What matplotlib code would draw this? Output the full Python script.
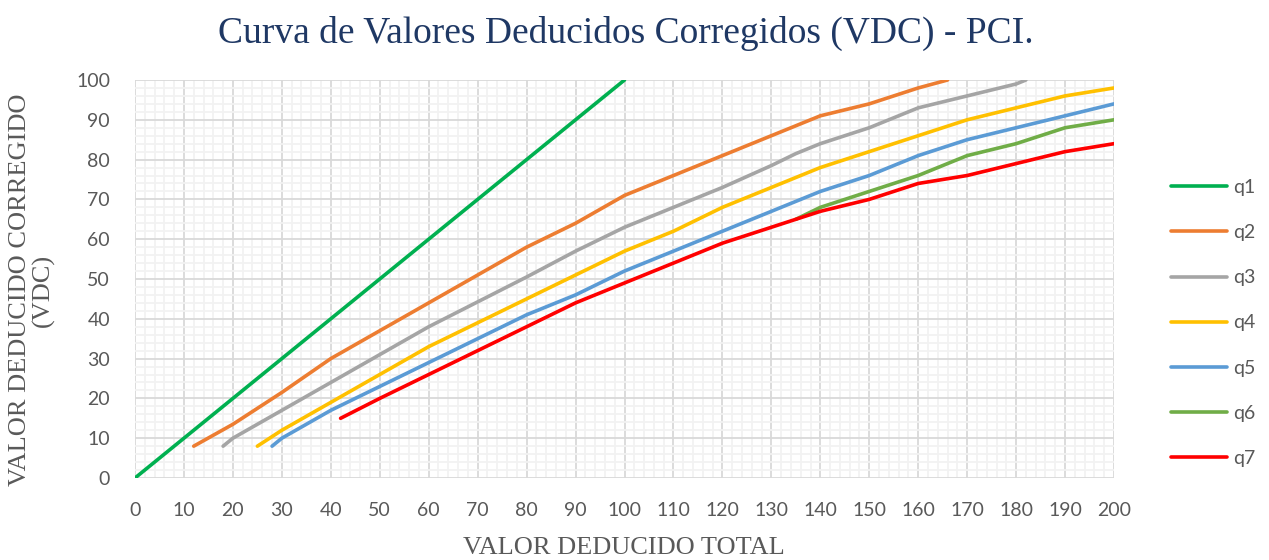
import matplotlib
matplotlib.use("Agg")
import matplotlib.pyplot as plt
from matplotlib.ticker import MultipleLocator

# ---- data ----
q1_x = [0, 100]
q1_y = [0, 100]
q2_x = [12, 20, 30, 40, 60, 80, 90, 100, 110, 120, 130, 140, 150, 160, 166]
q2_y = [8, 13.5, 21.5, 30, 44, 58, 64, 71, 76, 81, 86, 91, 94, 98, 100]
q3_x = [18, 20, 30, 40, 60, 80, 90, 100, 110, 120, 130, 135, 140, 150, 160, 170, 180, 182]
q3_y = [8, 10, 17, 24, 38, 50.5, 57, 63, 68, 73, 78.5, 81.5, 84, 88, 93, 96, 99, 100]
q4_x = [25, 30, 40, 60, 70, 80, 90, 100, 110, 120, 130, 140, 150, 160, 170, 180, 190, 200]
q4_y = [8, 12, 19, 33, 39, 45, 51, 57, 62, 68, 73, 78, 82, 86, 90, 93, 96, 98]
q5_x = [28, 30, 40, 50, 60, 70, 80, 90, 100, 110, 120, 130, 140, 150, 160, 170, 180, 190, 200]
q5_y = [8, 10, 17, 23, 29, 35, 41, 46, 52, 57, 62, 67, 72, 76, 81, 85, 88, 91, 94]
q6_x = [135, 140, 150, 160, 170, 180, 190, 200]
q6_y = [65, 68, 72, 76, 81, 84, 88, 90]
q7_x = [42, 50, 60, 70, 80, 90, 100, 110, 120, 130, 140, 150, 160, 170, 180, 190, 200]
q7_y = [15, 20, 26, 32, 38, 44, 49, 54, 59, 63, 67, 70, 74, 76, 79, 82, 84]

series = [
    ("q1", q1_x, q1_y, "#00B050"),
    ("q2", q2_x, q2_y, "#ED7D31"),
    ("q3", q3_x, q3_y, "#A5A5A5"),
    ("q4", q4_x, q4_y, "#FFC000"),
    ("q5", q5_x, q5_y, "#5B9BD5"),
    ("q6", q6_x, q6_y, "#70AD47"),
    ("q7", q7_x, q7_y, "#FF0000"),
]

fig = plt.figure(figsize=(12.69, 5.6), dpi=100)
ax = fig.add_axes([135/1269, 1-478/560, (1114-135)/1269, (478-80)/560])

for name, xs, ys, c in series:
    ax.plot(xs, ys, color=c, lw=2.6, label=name, solid_capstyle="round", zorder=3)

ax.set_xlim(0, 200)
ax.set_ylim(0, 100)
ax.xaxis.set_major_locator(MultipleLocator(10))
ax.yaxis.set_major_locator(MultipleLocator(10))
ax.xaxis.set_minor_locator(MultipleLocator(2))
ax.yaxis.set_minor_locator(MultipleLocator(2))
ax.grid(which="major", color="#D9D9D9", lw=1.3, zorder=1)
ax.grid(which="minor", color="#F2F2F2", lw=1.3, zorder=0)
ax.set_axisbelow(True)
for s in ax.spines.values():
    s.set_visible(False)
ax.tick_params(which="both", length=0)
ax.tick_params(axis="both", labelsize=14, labelcolor="#595959")
ax.tick_params(axis="x", pad=17)
ax.tick_params(axis="y", pad=18)
for lab in ax.get_xticklabels() + ax.get_yticklabels():
    lab.set_fontfamily("Lato")

fig.text(626/1269, 1-33/560, "Curva de Valores Deducidos Corregidos (VDC) - PCI.",
         ha="center", va="center", fontsize=27, color="#1F3864",
         family="Liberation Serif")
fig.text(624/1269, 1-548/560, "VALOR DEDUCIDO TOTAL", ha="center", va="center",
         fontsize=19, color="#595959", family="Liberation Serif")
fig.text(32/1269, 1-290/560, "VALOR DEDUCIDO CORREGIDO\n(VDC)", ha="center",
         va="center", rotation=90, fontsize=19, color="#595959",
         family="Liberation Serif", linespacing=1.0, multialignment="center")

leg = fig.legend(loc="center left", bbox_to_anchor=(1153/1269, 1-323/560),
                 frameon=False, handlelength=2.9,
                 labelspacing=1.45, handletextpad=0.3,
                 prop={"family": "Lato", "size": 14})
for t in leg.get_texts():
    t.set_color("#595959")

fig.savefig("out.png", dpi=100)
